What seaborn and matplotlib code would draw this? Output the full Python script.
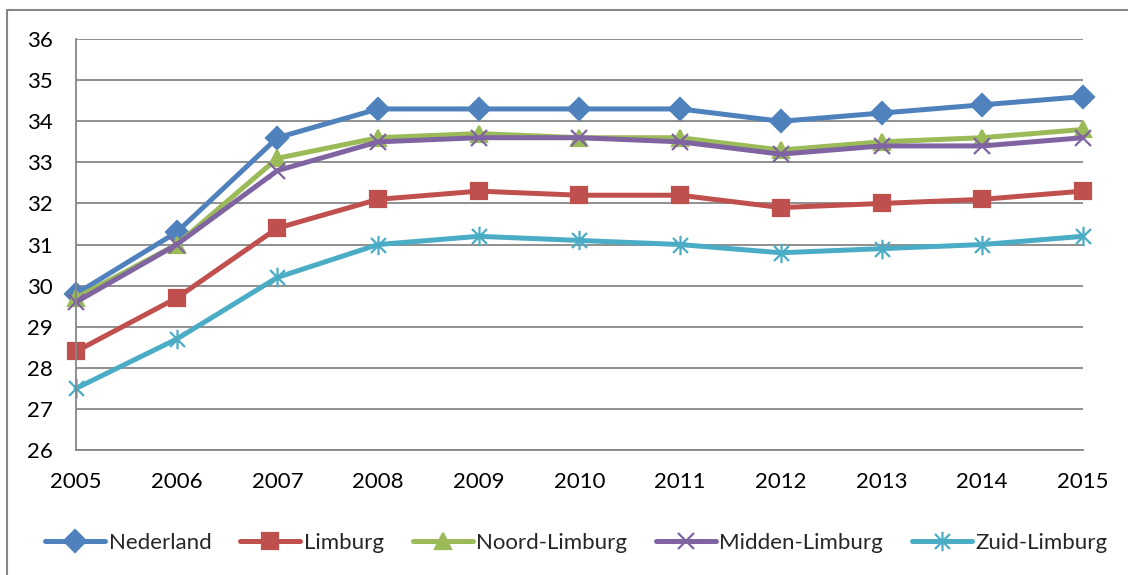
import matplotlib
matplotlib.use("Agg")
import matplotlib.pyplot as plt
import seaborn as sns
import pandas as pd
from matplotlib.lines import Line2D
from matplotlib.path import Path

years = [2005, 2006, 2007, 2008, 2009, 2010, 2011, 2012, 2013, 2014, 2015]
series_names = ["Nederland", "Limburg", "Noord-Limburg", "Midden-Limburg", "Zuid-Limburg"]
nederland = [29.8, 31.3, 33.6, 34.3, 34.3, 34.3, 34.3, 34.0, 34.2, 34.4, 34.6]
limburg = [28.4, 29.7, 31.4, 32.1, 32.3, 32.2, 32.2, 31.9, 32.0, 32.1, 32.3]
noord = [29.7, 31.0, 33.1, 33.6, 33.7, 33.6, 33.6, 33.3, 33.5, 33.6, 33.8]
midden = [29.6, 31.0, 32.8, 33.5, 33.6, 33.6, 33.5, 33.2, 33.4, 33.4, 33.6]
zuid = [27.5, 28.7, 30.2, 31.0, 31.2, 31.1, 31.0, 30.8, 30.9, 31.0, 31.2]
colors = ["#4F81BD", "#C0504D", "#9BBB59", "#8064A2", "#4BACC6"]

# Excel-style asterisk: an X with a vertical stroke
asterisk = Path([(-1, -1), (1, 1), (-1, 1), (1, -1), (0, -1.3), (0, 1.3)],
                [Path.MOVETO, Path.LINETO, Path.MOVETO, Path.LINETO, Path.MOVETO, Path.LINETO])
markers = ["D", "s", "^", "x", asterisk]
sizes = [11.5, 11.5, 12, 12, 14]

values = [nederland, limburg, noord, midden, zuid]

sns.set_style("white")
plt.rcParams["font.family"] = ["Lato", "DejaVu Sans"]

fig = plt.figure(figsize=(11.28, 5.75), dpi=100)
ax = fig.add_axes([0.0674, 0.2174, 0.8926, 0.7146])

for name, vals, c, m, ms in zip(series_names, values, colors, markers, sizes):
    d = pd.DataFrame({"jaar": years, "waarde": vals})
    sns.lineplot(data=d, x="jaar", y="waarde", color=c, marker=m, label=name,
                 linewidth=3.6, markersize=ms, markeredgewidth=1.6,
                 markeredgecolor=c, ax=ax, clip_on=False)

ax.set_xlim(2005, 2015)
ax.set_ylim(26, 36)
ax.set_xticks(years)
ax.set_yticks(range(26, 37))
ax.set_xlabel("")
ax.set_ylabel("")
ax.grid(axis="y", color="#878787", linewidth=1.3)
ax.set_axisbelow(True)
for s in ["top", "right"]:
    ax.spines[s].set_visible(False)
for s in ["left", "bottom"]:
    ax.spines[s].set_color("#878787")
    ax.spines[s].set_linewidth(1.3)
ax.tick_params(axis="both", which="both", direction="out", length=6, width=1.3,
               color="#878787", labelsize=16, labelcolor="black")
ax.tick_params(axis="x", pad=10)
ax.tick_params(axis="y", pad=11)

handles, labels = ax.get_legend_handles_labels()
ax.legend_.remove()
fig.legend(handles, labels, loc="center", bbox_to_anchor=(0.511, 0.056), ncol=5,
           frameon=False, fontsize=16, handlelength=2.7, handletextpad=0.15,
           columnspacing=1.3)

fig.lines.append(Line2D([0.0065, 0.0065], [0.0, 0.983], transform=fig.transFigure,
                        color="#878787", linewidth=1.5))
fig.lines.append(Line2D([0.0065, 1.0], [0.983, 0.983], transform=fig.transFigure,
                        color="#878787", linewidth=1.5))

fig.savefig("out.png", dpi=100)
